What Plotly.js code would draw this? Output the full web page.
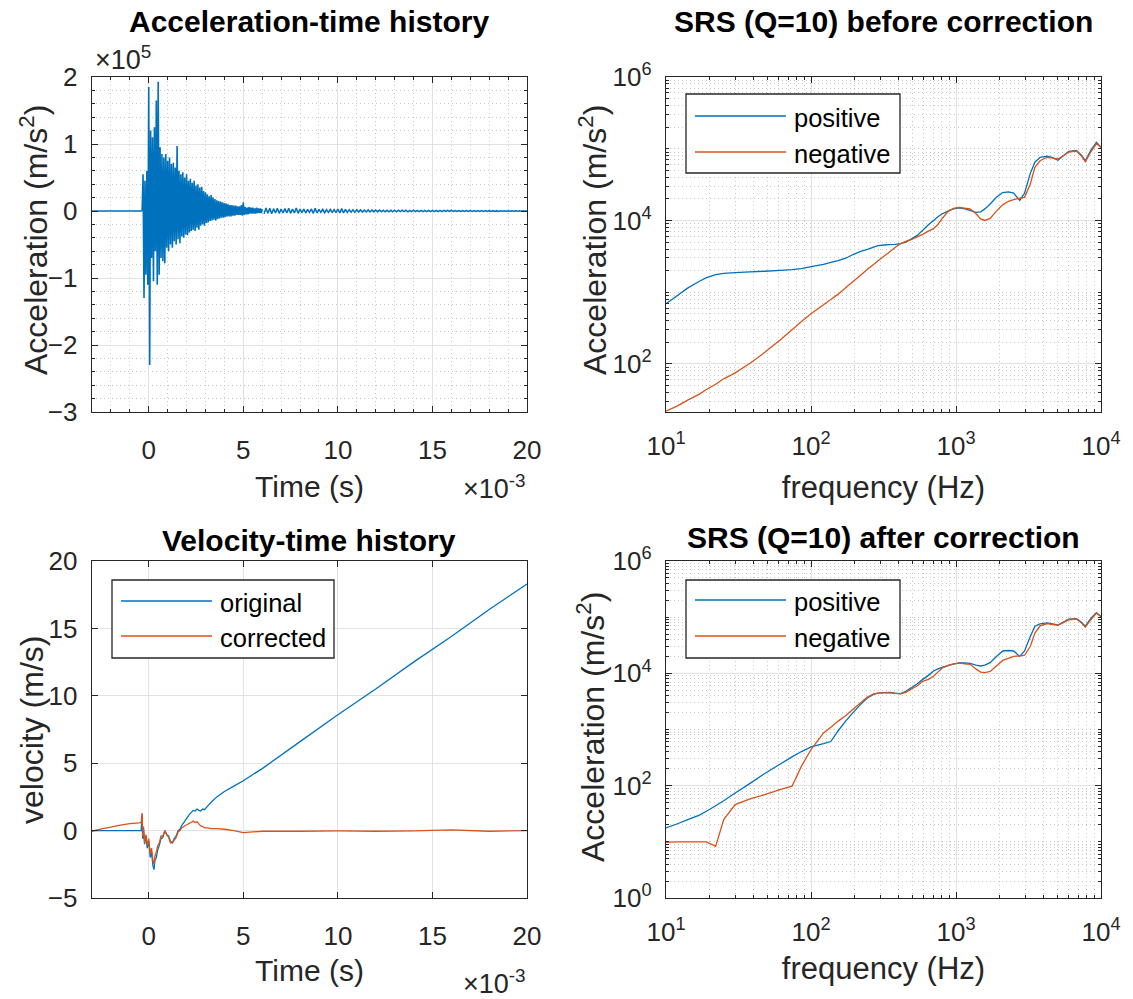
<!DOCTYPE html>
<html><head><meta charset="utf-8">
<script src="https://cdn.plot.ly/plotly-3.0.1.min.js"></script>
<style>html,body{margin:0;padding:0;background:#fff;overflow:hidden}</style>
</head><body><div id="chart" style="width:1133px;height:999px"></div>
<script>
// ---------------- DATA ----------------
// Acceleration-time history (time in ms, acceleration in 1e5 m/s^2)
const accelPreT = [-3.0, -0.35];
const accelPre = [0, 0];
const accelEarlyStart = -0.35, accelEarlyStep = 0.05;
const accelEarly = [
 0, 0.55, -1.30, 0.45, -0.95, 0.60, -1.10, 1.85, -2.30, 1.20,
 -0.70, 1.10, -1.05, 1.25, -0.60, 1.65, -1.10, 1.93, -0.95, 0.95,
 -0.70, 0.85, -0.75, 0.80, -0.78, 0.85, -0.55, 0.75, -0.60, 0.80,
 -0.50, 0.70, -0.55, 0.72, -0.45, 0.65, -0.50, 0.97, -0.42, 0.60,
 -0.48, 0.55, -0.38, 0.58, -0.40, 0.50, -0.35, 0.55, -0.36, 0.45,
 -0.32, 0.48, -0.30, 0.42, -0.28, 0.45, -0.30, 0.38, -0.25, 0.40,
 -0.28, 0.35, -0.22, 0.36, -0.20, 0.30, -0.22, 0.28, -0.18, 0.25,
 -0.17, 0.22, -0.15, 0.24, -0.14, 0.20, -0.13, 0.18, -0.14, 0.16,
 -0.12, 0.15, -0.11, 0.14, -0.10, 0.13, -0.10, 0.12, -0.09, 0.11,
 -0.08, 0.10, -0.08, 0.09, -0.08, 0.09, -0.07, 0.08, -0.07, 0.08,
 -0.06, 0.07, -0.06, 0.07, -0.06, 0.09, -0.07, 0.13, -0.06, 0.06,
 -0.05, 0.05, -0.05, 0.06, -0.04, 0.05, -0.04, 0.05, -0.04, 0.04,
 -0.04, 0.05, -0.03, 0.04, -0.03, 0.04, -0.03, 0.03
];
const accelLateStart = 6.1, accelLateStep = 0.1;
const accelLate = [
 -0.04, 0.045, -0.035, 0.04, -0.04, 0.035, -0.03, 0.04, -0.035, 0.03,
 -0.03, 0.035, -0.03, 0.04, -0.035, 0.03, -0.03, 0.045, -0.035, 0.03,
 -0.025, 0.03, -0.03, 0.025, -0.02, 0.03, -0.035, 0.04, -0.03, 0.025,
 -0.02, 0.025, -0.025, 0.02, -0.02, 0.025, -0.02, 0.02, -0.025, 0.03,
 -0.03, 0.035, -0.03, 0.025, -0.02, 0.02, -0.018, 0.02, -0.02, 0.018,
 -0.015, 0.018, -0.016, 0.015, -0.014, 0.016, -0.015, 0.014, -0.013, 0.015,
 -0.013, 0.014, -0.012, 0.013, -0.012, 0.012, -0.011, 0.013, -0.012, 0.011,
 -0.011, 0.012, -0.01, 0.011, -0.01, 0.012, -0.011, 0.01, -0.01, 0.011,
 -0.01, 0.01, -0.009, 0.01, -0.009, 0.01, -0.009, 0.009, -0.008, 0.009,
 -0.008, 0.009, -0.008, 0.008, -0.008, 0.008, -0.007, 0.008, -0.007, 0.008,
 -0.007, 0.007, -0.007, 0.007, -0.006, 0.007, -0.006, 0.007, -0.006, 0.006,
 -0.006, 0.006, -0.006, 0.006, -0.005, 0.006, -0.005, 0.006, -0.005, 0.005,
 -0.005, 0.005, -0.005, 0.005, -0.005, 0.005, -0.004, 0.005, -0.004, 0.005,
 -0.004, 0.004, -0.004, 0.004, -0.004, 0.004, -0.004, 0.004, -0.004, 0.004
];

// Velocity-time history (time in ms, velocity in m/s)
const velT = [-3.0, -2.5, -2.0, -1.5, -1.0, -0.5, -0.4, -0.35, -0.32, -0.28,
 -0.22, -0.15, -0.08, 0.0, 0.08, 0.15, 0.22, 0.28, 0.33, 0.40,
 0.48, 0.56, 0.65, 0.75, 0.85, 0.95, 1.05, 1.15, 1.25, 1.35,
 1.45, 1.55, 1.65, 1.75, 1.85, 1.95, 2.05, 2.15, 2.25, 2.35,
 2.45, 2.55, 2.65, 2.75, 2.85, 2.95, 3.1, 3.3, 3.6, 4.0,
 4.5, 5.0, 6.0, 8.0, 10.0, 12.0, 14.0, 16.0, 18.0, 20.0];
const velOriginal = [0, 0, 0, 0, 0, 0, 0, 1.2, -0.6, 0.2,
 -1.0, -0.4, -1.3, -0.8, -2.0, -1.6, -2.6, -2.9, -2.2, -2.0,
 -1.4, -1.1, -0.6, -0.5, 0.0, -0.3, -0.4, -0.8, -0.9, -0.6,
 -0.4, 0.0, 0.1, 0.4, 0.6, 0.8, 1.0, 1.2, 1.35, 1.5,
 1.45, 1.6, 1.5, 1.45, 1.6, 1.55, 1.8, 2.1, 2.5, 2.9,
 3.3, 3.7, 4.6, 6.6, 8.6, 10.5, 12.5, 14.4, 16.4, 18.3];
const velCorrected = [-0.05, 0.12, 0.25, 0.40, 0.52, 0.58, 0.6, 1.3, -0.4, 0.3,
 -0.9, -0.3, -1.1, -0.6, -1.7, -1.3, -2.2, -2.5, -1.9, -1.6,
 -1.1, -0.9, -0.4, -0.4, 0.0, -0.3, -0.5, -0.9, -0.9, -0.7,
 -0.5, -0.1, 0.0, 0.2, 0.3, 0.4, 0.45, 0.55, 0.6, 0.7,
 0.6, 0.65, 0.5, 0.35, 0.3, 0.2, 0.2, 0.15, 0.15, 0.1,
 0.0, -0.15, -0.05, -0.05, -0.02, -0.05, -0.02, 0.05, -0.05, 0.0];

// SRS (Q=10): frequency in Hz, acceleration in m/s^2
const srsFreq = [10, 12, 14, 17, 19, 22, 25, 30, 38, 48,
 61, 74, 86, 100, 122, 137, 154, 175, 195, 220,
 245, 270, 290, 320, 346, 380, 415, 450, 490, 540,
 590, 645, 700, 750, 800, 880, 960, 1050, 1150, 1250,
 1370, 1480, 1580, 1720, 1900, 2100, 2300, 2500, 2750, 2970,
 3250, 3500, 3800, 4260, 4650, 5050, 5500, 6000, 6770, 7300,
 7800, 8500, 9300, 10000];
const srsBeforePositive = [690, 900, 1130, 1420, 1600, 1760, 1830, 1880, 1920, 1960,
 2010, 2060, 2130, 2270, 2450, 2600, 2750, 3000, 3350, 3700,
 3950, 4250, 4450, 4550, 4600, 4650, 4750, 5000, 5500, 6200,
 7300, 8700, 10000, 11300, 12300, 13500, 14500, 15000, 14500, 13800,
 13000, 13200, 14500, 17000, 21000, 24500, 25000, 24000, 19000, 24000,
 45000, 65000, 76000, 79000, 75000, 69000, 80000, 92000, 95000, 82000,
 68000, 95000, 123000, 105000];
const srsBeforeNegative = [22, 26, 31, 38, 44, 52, 62, 75, 102, 145,
 214, 300, 390, 500, 670, 790, 940, 1170, 1410, 1730,
 2090, 2440, 2740, 3200, 3600, 4200, 4750, 5100, 5400, 5900,
 6400, 7100, 7700, 8800, 10500, 13300, 14800, 15200, 14800, 14500,
 12500, 10500, 10000, 10700, 13500, 16500, 18500, 19500, 20500, 21000,
 32000, 55000, 68000, 76000, 74000, 72000, 80000, 90000, 93000, 80000,
 66000, 90000, 118000, 105000];
const srsAfterPositive = [17.7, 21, 24.5, 30, 35, 44, 54, 74, 110, 165,
 240, 325, 405, 490, 560, 610, 950, 1450, 2000, 2800,
 3650, 4200, 4450, 4550, 4600, 4450, 4350, 4800, 5500, 6500,
 7800, 9200, 11000, 12000, 12800, 13700, 14600, 15400, 15300, 15000,
 14000, 13500, 14000, 15500, 20000, 25000, 25500, 25000, 20000, 25000,
 45000, 69000, 76000, 79000, 76000, 72000, 82000, 92000, 94000, 82000,
 69000, 95000, 120000, 102000];
const srsAfterNegative = [9.8, 10, 10, 10, 10, 8.3, 25, 46, 58, 69,
 85, 98, 223, 440, 870, 1100, 1410, 1800, 2300, 3000,
 3800, 4300, 4450, 4500, 4500, 4400, 4300, 4600, 5200, 6000,
 7200, 7800, 8900, 10500, 12300, 13800, 14800, 15200, 14800, 14500,
 12000, 10500, 10300, 10800, 13500, 17000, 18500, 20000, 20500, 21000,
 30000, 52000, 70000, 77000, 74000, 72000, 80000, 90000, 93000, 80000,
 66000, 90000, 118000, 104000];

// Tick labels
const timeTicks = [0, 5, 10, 15, 20];
const accelTicks = [-3, -2, -1, 0, 1, 2];
const velTicks = [-5, 0, 5, 10, 15, 20];
const freqTicks = [10, 100, 1000, 10000];
const freqTickText = ['10<sup>1</sup>', '10<sup>2</sup>', '10<sup>3</sup>', '10<sup>4</sup>'];
const srsTopTicks = [100, 10000, 1000000];
const srsTopTickText = ['10<sup>2</sup>', '10<sup>4</sup>', '10<sup>6</sup>'];
const srsBotTicks = [1, 100, 10000, 1000000];
const srsBotTickText = ['10<sup>0</sup>', '10<sup>2</sup>', '10<sup>4</sup>', '10<sup>6</sup>'];

// ---------------- STYLE ----------------
const W = 1133, H = 999;
const px = x => x / W, py = y => 1 - y / H;
const FONT = 'Liberation Sans, Arial, Helvetica, sans-serif';
const AX = '#262626', GRID = '#e2e2e2', MINOR = '#c8c8c8';
const BLUE = '#0072BD', ORANGE = '#D95319';
const LEFT = [px(92), px(527)], RIGHT = [px(666), px(1101)];
const TOP = [py(412), py(77)], BOT = [py(898), py(561)];

function logMinor(lo, hi) {
  const v = [];
  for (let e = lo; e < hi; e++) for (let m = 1; m <= 9; m++) v.push(m * Math.pow(10, e));
  v.push(Math.pow(10, hi));
  return v;
}
function axis(extra) {
  return Object.assign({
    showline: true, linecolor: AX, linewidth: 1.3, mirror: 'allticks',
    ticks: 'inside', ticklen: 6, tickcolor: AX, tickwidth: 1,
    showgrid: true, gridcolor: GRID, gridwidth: 1, zeroline: false,
    tickfont: {family: FONT, size: 26, color: AX}, fixedrange: true
  }, extra);
}
const DOT = '1px,3px';
const minorLin = d => ({dtick: d, showgrid: true, gridcolor: MINOR, griddash: DOT, gridwidth: 1, ticks: 'inside', ticklen: 3, tickcolor: AX});
const minorLog = (lo, hi) => ({tickvals: logMinor(lo, hi), showgrid: true, gridcolor: MINOR, griddash: DOT, gridwidth: 1, ticks: 'inside', ticklen: 3, tickcolor: AX});
const titleFont = {family: FONT, size: 30, color: AX};

const ln = (c, w) => ({color: c, width: w, simplify: false});
const traces = [
  {x: accelPreT, y: accelPre, xaxis: 'x', yaxis: 'y', mode: 'lines', line: ln(BLUE, 1.5), showlegend: false},
  {x0: accelEarlyStart, dx: accelEarlyStep, y: accelEarly, xaxis: 'x', yaxis: 'y', mode: 'lines', line: ln(BLUE, 1.6), showlegend: false},
  {x0: accelLateStart, dx: accelLateStep, y: accelLate, xaxis: 'x', yaxis: 'y', mode: 'lines', line: ln(BLUE, 1.5), showlegend: false},
  {x: srsFreq, y: srsBeforePositive, xaxis: 'x2', yaxis: 'y2', mode: 'lines', name: 'positive', line: ln(BLUE, 1.3), showlegend: false},
  {x: srsFreq, y: srsBeforeNegative, xaxis: 'x2', yaxis: 'y2', mode: 'lines', name: 'negative', line: ln(ORANGE, 1.3), showlegend: false},
  {x: velT, y: velOriginal, xaxis: 'x3', yaxis: 'y3', mode: 'lines', name: 'original', line: ln(BLUE, 1.3), showlegend: false},
  {x: velT, y: velCorrected, xaxis: 'x3', yaxis: 'y3', mode: 'lines', name: 'corrected', line: ln(ORANGE, 1.3), showlegend: false},
  {x: srsFreq, y: srsAfterPositive, xaxis: 'x4', yaxis: 'y4', mode: 'lines', name: 'positive', line: ln(BLUE, 1.3), showlegend: false},
  {x: srsFreq, y: srsAfterNegative, xaxis: 'x4', yaxis: 'y4', mode: 'lines', name: 'negative', line: ln(ORANGE, 1.3), showlegend: false}
];

// manual MATLAB-style legends
const shapes = [], annotations = [];
function legendBox(x0, y0, x1, y1, items) {
  shapes.push({type: 'rect', xref: 'paper', yref: 'paper', x0: px(x0), x1: px(x1), y0: py(y1), y1: py(y0),
    fillcolor: '#ffffff', line: {color: AX, width: 1.3}, layer: 'above'});
  items.forEach(it => {
    shapes.push({type: 'line', xref: 'paper', yref: 'paper', x0: px(x0 + 9), x1: px(x0 + 100), y0: py(it.y), y1: py(it.y),
      line: {color: it.color, width: 1.3}, layer: 'above'});
    annotations.push({xref: 'paper', yref: 'paper', x: px(x0 + 106), y: py(it.y + 2), xanchor: 'left', yanchor: 'middle',
      text: it.text, showarrow: false, font: {family: FONT, size: 25.5, color: '#000'}});
  });
}
legendBox(686, 94, 900, 173, [{y: 116, color: BLUE, text: 'positive'}, {y: 152, color: ORANGE, text: 'negative'}]);
legendBox(112, 580, 334, 658, [{y: 601, color: BLUE, text: 'original'}, {y: 636, color: ORANGE, text: 'corrected'}]);
legendBox(686, 580, 900, 658, [{y: 600, color: BLUE, text: 'positive'}, {y: 636, color: ORANGE, text: 'negative'}]);

function title(text, xc, yc) {
  annotations.push({xref: 'paper', yref: 'paper', x: px(xc), y: py(yc), xanchor: 'center', yanchor: 'middle',
    text: '<b>' + text + '</b>', showarrow: false, font: {family: FONT, size: 30, color: '#000'}});
}
title('Acceleration-time history', 309.5, 22);
title('SRS (Q=10) before correction', 883.5, 22);
title('Velocity-time history', 309.5, 540);
title('SRS (Q=10) after correction', 883.5, 537);

function ytitle(text, xc, yc) {
  annotations.push({xref: 'paper', yref: 'paper', x: px(xc), y: py(yc), xanchor: 'center', yanchor: 'middle',
    textangle: -90, text: text, showarrow: false, font: {family: FONT, size: 32, color: AX}});
}
ytitle('Acceleration (m/s<sup>2</sup>)', 34, 240);
ytitle('Acceleration (m/s<sup>2</sup>)', 593, 240);
ytitle('velocity (m/s)', 32, 730);
ytitle('Acceleration (m/s<sup>2</sup>)', 591, 727);

function expo(text, x, y, anchor) {
  annotations.push({xref: 'paper', yref: 'paper', x: px(x), y: py(y), xanchor: anchor, yanchor: 'middle',
    text: text, showarrow: false, font: {family: FONT, size: 27, color: AX}});
}
expo('×10<sup>5</sup>', 93, 58, 'left');
expo('×10<sup>-3</sup>', 528, 487, 'right');
expo('×10<sup>-3</sup>', 528, 982, 'right');

const layout = {
  width: W, height: H, margin: {l: 0, r: 0, t: 0, b: 0},
  paper_bgcolor: '#ffffff', plot_bgcolor: '#ffffff', showlegend: false,
  font: {family: FONT, color: AX},
  xaxis: axis({domain: LEFT, anchor: 'y', range: [-3, 20], tickvals: timeTicks, minor: minorLin(1),
    ticklabelstandoff: 14, title: {text: 'Time (s)', font: titleFont, standoff: 12}}),
  yaxis: axis({domain: TOP, anchor: 'x', range: [-3, 2], tickvals: accelTicks, minor: minorLin(0.2),
    ticklabelstandoff: 8}),
  xaxis2: axis({domain: RIGHT, anchor: 'y2', type: 'log', range: [1, 4], tickvals: freqTicks, ticktext: freqTickText,
    minor: minorLog(1, 4), ticklabelstandoff: 10, title: {text: 'frequency (Hz)', font: {family: FONT, size: 31, color: AX}, standoff: 16}}),
  yaxis2: axis({domain: TOP, anchor: 'x2', type: 'log', range: [1.33, 6], tickvals: srsTopTicks, ticktext: srsTopTickText,
    minor: minorLog(1, 6), ticklabelstandoff: 8}),
  xaxis3: axis({domain: LEFT, anchor: 'y3', range: [-3, 20], tickvals: timeTicks,
    ticklabelstandoff: 14, title: {text: 'Time (s)', font: titleFont, standoff: 10}}),
  yaxis3: axis({domain: BOT, anchor: 'x3', range: [-5, 20], tickvals: velTicks,
    ticklabelstandoff: 8}),
  xaxis4: axis({domain: RIGHT, anchor: 'y4', type: 'log', range: [1, 4], tickvals: freqTicks, ticktext: freqTickText,
    minor: minorLog(1, 4), ticklabelstandoff: 10, title: {text: 'frequency (Hz)', font: {family: FONT, size: 31, color: AX}, standoff: 11}}),
  yaxis4: axis({domain: BOT, anchor: 'x4', type: 'log', range: [0, 6], tickvals: srsBotTicks, ticktext: srsBotTickText,
    minor: minorLog(0, 6), ticklabelstandoff: 8}),
  shapes: shapes, annotations: annotations
};

Plotly.newPlot('chart', traces, layout, {staticPlot: true, displayModeBar: false});
</script></body></html>
